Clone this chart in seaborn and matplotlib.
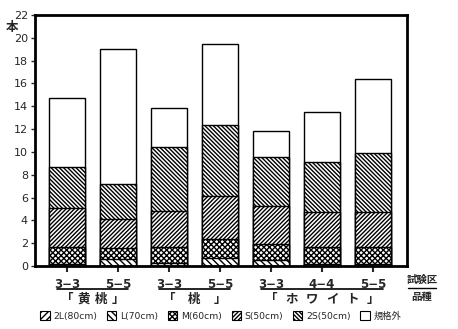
import matplotlib
matplotlib.use("Agg")
import matplotlib.pyplot as plt
import matplotlib.transforms as mtransforms
from matplotlib.patches import Patch
import numpy as np
import pandas as pd
import seaborn as sns

# Trial plots: (variety, spacing) in display order
plot_keys = ["黄桃 3-3", "黄桃 5-5", "桃 3-3", "桃 5-5", "ホワイト 3-3", "ホワイト 4-4", "ホワイト 5-5"]
spacing_labels = ["3−3", "5−5", "3−3", "5−5", "3−3", "4−4", "5−5"]
variety_groups = [["「", "黄", "桃", "」"], ["「", "桃", "」"], ["「", "ホ", "ワ", "イ", "ト", "」"]]
group_members = [[0, 1], [2, 3], [4, 5, 6]]

# Stem counts per grade (本)
grade_2L = [0.0, 0.0, 0.0, 0.0, 0.0, 0.0, 0.0]
grade_L = [0.2, 0.6, 0.25, 0.7, 0.55, 0.15, 0.2]
grade_M = [1.5, 0.95, 1.4, 1.65, 1.4, 1.55, 1.45]
grade_S = [3.35, 2.6, 3.2, 3.8, 3.35, 3.0, 3.1]
grade_2S = [3.6, 3.05, 5.55, 6.25, 4.25, 4.4, 5.15]
off_grade = [6.05, 11.8, 3.45, 7.05, 2.25, 4.4, 6.5]

grade_names = ["2L(80cm)", "L(70cm)", "M(60cm)", "S(50cm)", "2S(50cm)", "規格外"]
grade_values = [grade_2L, grade_L, grade_M, grade_S, grade_2S, off_grade]
grade_hatches = ["/" * 5, "\\" * 5, "x" * 6, "/" * 8, "\\" * 8, ""]

sns.set_style("white")
plt.rcParams["font.family"] = ["DejaVu Sans", "Noto Sans CJK JP"]
plt.rcParams["hatch.linewidth"] = 1.0
plt.rcParams["hatch.color"] = "black"

df = pd.DataFrame({"plot": plot_keys})
cum = np.zeros(len(plot_keys))
for name, vals in zip(grade_names, grade_values):
    cum = cum + np.array(vals)
    df[name] = cum.copy()

fig = plt.figure(figsize=(4.58, 3.29), dpi=100)
ax = fig.add_axes([35 / 458, 1 - 266 / 329, 372 / 458, 251 / 329])

# Stacked bars: draw cumulative totals from the top grade down
for name, hatch in reversed(list(zip(grade_names, grade_hatches))):
    sns.barplot(data=df, x="plot", y=name, order=plot_keys, color="white",
                edgecolor="black", linewidth=1.0, hatch=hatch, width=0.7,
                errorbar=None, ax=ax, saturation=1)

ax.set_xlabel("")
ax.set_ylabel("")
ax.set_ylim(0, 22)
ax.set_xlim(-0.63, 6.67)
ax.set_yticks(np.arange(0, 23, 2))
ax.tick_params(axis="y", direction="out", length=3, width=1, labelsize=8, pad=2, left=True)
ax.tick_params(axis="x", direction="out", length=4, width=1.5, bottom=True, labelsize=8.5, pad=5)
ax.set_xticks(range(len(plot_keys)))
ax.set_xticklabels(spacing_labels, fontweight="bold")
for s in ax.spines.values():
    s.set_linewidth(2)
    s.set_color("black")

fig.text(12 / 458, 1 - 27 / 329, "本", fontsize=9, fontweight="bold", ha="center", va="center")

trans = mtransforms.blended_transform_factory(ax.transData, fig.transFigure)
for chars, members in zip(variety_groups, group_members):
    x0, x1 = members[0], members[-1]
    ax.plot([x0 - 0.2, x1 + 0.2], [1 - 289 / 329] * 2, color="black", lw=1.2,
            transform=trans, clip_on=False)
    for xc, ch in zip(np.linspace(x0, x1, len(chars)), chars):
        ax.text(xc, 1 - 299 / 329, ch, transform=trans, ha="center", va="center",
                fontsize=9, fontweight="bold")

fig.text(422 / 458, 1 - 280 / 329, "試験区", fontsize=7.5, fontweight="bold", ha="center", va="center")
fig.add_artist(plt.Line2D([408 / 458, 436 / 458], [1 - 288 / 329] * 2, color="black", lw=1))
fig.text(422 / 458, 1 - 297 / 329, "品種", fontsize=7.5, fontweight="bold", ha="center", va="center")

handles = [Patch(facecolor="white", edgecolor="black", hatch=h, linewidth=0.8) for h in grade_hatches]
fig.legend(handles, grade_names, loc="center", bbox_to_anchor=(0.482, 1 - 316 / 329), ncol=6,
           frameon=False, fontsize=6.7, handlelength=1.0, handleheight=1.0,
           handletextpad=0.4, columnspacing=1.05, borderpad=0)

fig.savefig("out.png", dpi=100)
